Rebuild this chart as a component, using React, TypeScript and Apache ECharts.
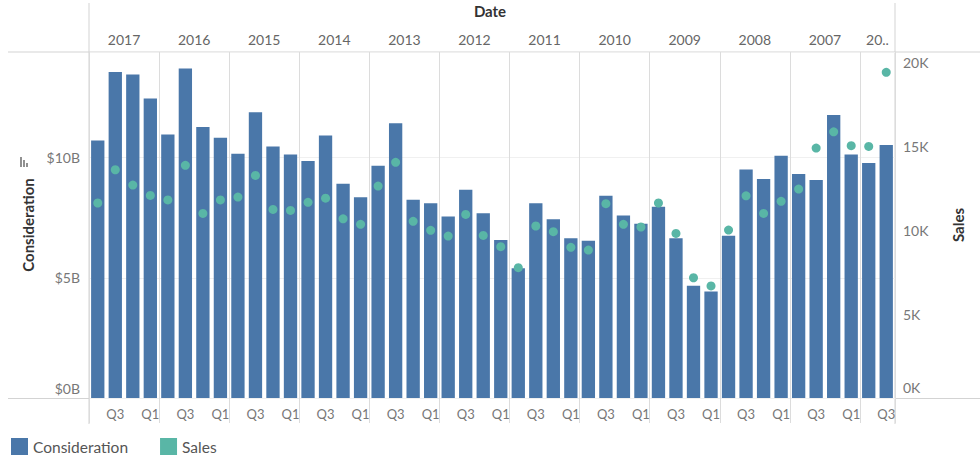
import React, { useEffect, useRef } from "react";
import * as echarts from "echarts";

const years = [2017, 2016, 2015, 2014, 2013, 2012, 2011, 2010, 2009, 2008, 2007, 2006];
const quarters = ["Q4", "Q3", "Q2", "Q1"];
const quartersPerYear = [4, 4, 4, 4, 4, 4, 4, 4, 4, 4, 4, 2];
const shownQuarterLabels = ["Q3", "Q1"];

// Consideration in billions of dollars, per quarter (newest first)
const considerationB = [
  10.72, 13.57, 13.46, 12.46,
  10.97, 13.71, 11.28, 10.83,
  10.17, 11.89, 10.47, 10.13,
  9.86, 10.93, 8.92, 8.36,
  9.67, 11.43, 8.25, 8.11,
  7.55, 8.67, 7.69, 6.58,
  5.4, 8.11, 7.44, 6.65,
  6.54, 8.42, 7.6, 7.25,
  7.96, 6.65, 4.67, 4.43,
  6.75, 9.51, 9.11, 10.08,
  9.32, 9.07, 11.78, 10.13,
  9.78, 10.53,
];

// Sales in thousands, per quarter (newest first)
const salesK = [
  11.61, 13.59, 12.68, 12.06,
  11.79, 13.85, 10.99, 11.79,
  11.96, 13.25, 11.23, 11.17,
  11.65, 11.9, 10.67, 10.34,
  12.62, 14.03, 10.52, 9.98,
  9.64, 10.93, 9.68, 9.01,
  7.76, 10.24, 9.9, 8.97,
  8.81, 11.57, 10.34, 10.18,
  11.61, 9.8, 7.16, 6.67,
  10.0, 12.04, 10.99, 11.71,
  12.44, 14.88, 15.85, 15.02,
  14.98, 19.39,
];

const leftTicksB = [0, 5, 10];
const rightTicksK = [0, 5, 10, 15, 20];

const FONT = "Lato, 'Noto Sans', sans-serif";
const BAR_COLOR = "#4a77a9";
const DOT_COLOR = "#59b6a6";
const FRAME = "#d3d3d3";
const SEP = "#dcdcdc";

export default function App() {
  const ref = useRef<HTMLDivElement>(null);

  useEffect(() => {
    if (!ref.current) return;
    const chart = echarts.init(ref.current, undefined, { renderer: "svg" });

    const categories: string[] = [];
    const yearStarts: number[] = [];
    const yearCenters: number[] = [];
    let idx = 0;
    years.forEach((y, i) => {
      yearStarts.push(idx);
      yearCenters.push(idx + quartersPerYear[i] / 2);
      quarters.slice(0, quartersPerYear[i]).forEach((q) => categories.push(`${y} ${q}`));
      idx += quartersPerYear[i];
    });
    const total = categories.length;

    const yearLabel = (v: number) => {
      const i = yearCenters.indexOf(v);
      if (i < 0) return "";
      const s = String(years[i]);
      return quartersPerYear[i] < 4 ? s.slice(0, 2) + ".." : s;
    };

    const option: any = {
      animation: false,
      textStyle: { fontFamily: FONT },
      title: {
        text: "Date",
        left: "center",
        top: 3,
        padding: 0,
        textStyle: { fontFamily: FONT, fontSize: 15, fontWeight: "bold", color: "#333" },
      },
      legend: {
        data: ["Consideration", "Sales"],
        left: 11,
        top: 438,
        padding: 0,
        icon: "rect",
        itemWidth: 17,
        itemHeight: 17,
        itemGap: 32,
        textStyle: { fontFamily: FONT, fontSize: 15.5, color: "#555" },
      },
      grid: { left: 89, right: 85, top: 52, bottom: 66 },
      xAxis: [
        {
          type: "category",
          data: categories,
          position: "bottom",
          boundaryGap: true,
          axisLine: { show: false },
          axisTick: {
            show: true,
            length: 25,
            interval: (i: number) => yearStarts.includes(i),
            lineStyle: { color: SEP },
          },
          splitLine: {
            show: true,
            interval: (i: number) => yearStarts.includes(i),
            lineStyle: { color: SEP },
          },
          axisLabel: {
            interval: 0,
            margin: 9,
            fontSize: 13,
            color: "#777",
            fontFamily: FONT,
            formatter: (v: string) => {
              const q = v.split(" ")[1];
              return shownQuarterLabels.includes(q) ? q : "";
            },
          },
        },
        {
          type: "category",
          data: categories,
          position: "top",
          boundaryGap: true,
          axisLine: { show: false },
          axisTick: {
            show: true,
            length: 25,
            interval: (i: number) => yearStarts.includes(i),
            lineStyle: { color: SEP },
          },
          axisLabel: { show: false },
          splitLine: { show: false },
        },
        {
          type: "value",
          position: "top",
          min: 0,
          max: total,
          interval: 1,
          axisLine: { show: false },
          axisTick: { show: false },
          splitLine: { show: false },
          axisLabel: {
            margin: 6,
            fontSize: 14,
            color: "#666",
            fontFamily: FONT,
            formatter: (v: number) => yearLabel(v),
          },
        },
      ],
      yAxis: [
        {
          type: "value",
          position: "left",
          min: 0,
          max: 14.4,
          interval: 5,
          name: "Consideration",
          nameLocation: "middle",
          nameRotate: 90,
          nameGap: 54,
          nameTextStyle: { fontFamily: FONT, fontSize: 15, fontWeight: "bold", color: "#333" },
          axisLine: { show: false },
          axisTick: { show: false },
          splitLine: { show: true, lineStyle: { color: "#f0f0f0" } },
          axisLabel: {
            showMaxLabel: false,
            margin: 9,
            fontSize: 14,
            color: "#777",
            fontFamily: FONT,
            formatter: (v: number) =>
              leftTicksB.includes(v) ? (v === 0 ? "{z|$0B}" : "$" + v + "B") : "",
            rich: { z: { padding: [0, 0, 20, 0], fontSize: 14, color: "#777", fontFamily: FONT } },
          },
        },
        {
          type: "value",
          position: "right",
          min: 0,
          max: 20.6,
          interval: 5,
          name: "Sales",
          nameLocation: "middle",
          nameRotate: 90,
          nameGap: 55,
          nameTextStyle: { fontFamily: FONT, fontSize: 15, fontWeight: "bold", color: "#333" },
          axisLine: { show: false },
          axisTick: { show: false },
          splitLine: { show: false },
          axisLabel: {
            showMaxLabel: false,
            margin: 8,
            fontSize: 14,
            color: "#777",
            fontFamily: FONT,
            formatter: (v: number) =>
              rightTicksK.includes(v) ? (v === 0 ? "{z|0K}" : v + "K") : "",
            rich: { z: { padding: [0, 0, 22, 0], fontSize: 14, color: "#777", fontFamily: FONT } },
          },
        },
      ],
      series: [
        {
          name: "Consideration",
          type: "bar",
          xAxisIndex: 0,
          yAxisIndex: 0,
          data: considerationB,
          barCategoryGap: "24%",
          itemStyle: { color: BAR_COLOR },
          z: 2,
        },
        {
          name: "Sales",
          type: "scatter",
          xAxisIndex: 0,
          yAxisIndex: 1,
          data: salesK,
          symbol: "circle",
          symbolSize: 9,
          itemStyle: { color: DOT_COLOR, opacity: 1 },
          z: 3,
        },
      ],
      graphic: [
        { type: "line", shape: { x1: 8, y1: 52, x2: 980, y2: 52 }, style: { stroke: FRAME, lineWidth: 1 }, silent: true },
        { type: "line", shape: { x1: 8, y1: 398.5, x2: 980, y2: 398.5 }, style: { stroke: FRAME, lineWidth: 1 }, silent: true },
        { type: "line", shape: { x1: 89, y1: 3, x2: 89, y2: 424 }, style: { stroke: FRAME, lineWidth: 1 }, silent: true },
        { type: "line", shape: { x1: 895, y1: 3, x2: 895, y2: 424 }, style: { stroke: FRAME, lineWidth: 1 }, silent: true },
        {
          type: "group",
          silent: true,
          children: [
            { type: "line", shape: { x1: 21, y1: 167, x2: 21, y2: 157 }, style: { stroke: "#555", lineWidth: 1.3 } },
            { type: "line", shape: { x1: 24, y1: 167, x2: 24, y2: 160 }, style: { stroke: "#555", lineWidth: 1.3 } },
            { type: "line", shape: { x1: 27, y1: 167, x2: 27, y2: 163 }, style: { stroke: "#555", lineWidth: 1.3 } },
          ],
        },
      ],
    };

    chart.setOption(option);
    return () => chart.dispose();
  }, []);

  return (
    <div
      ref={ref}
      style={{ position: "fixed", left: 0, top: 0, width: 980, height: 464, background: "#fff" }}
    />
  );
}
